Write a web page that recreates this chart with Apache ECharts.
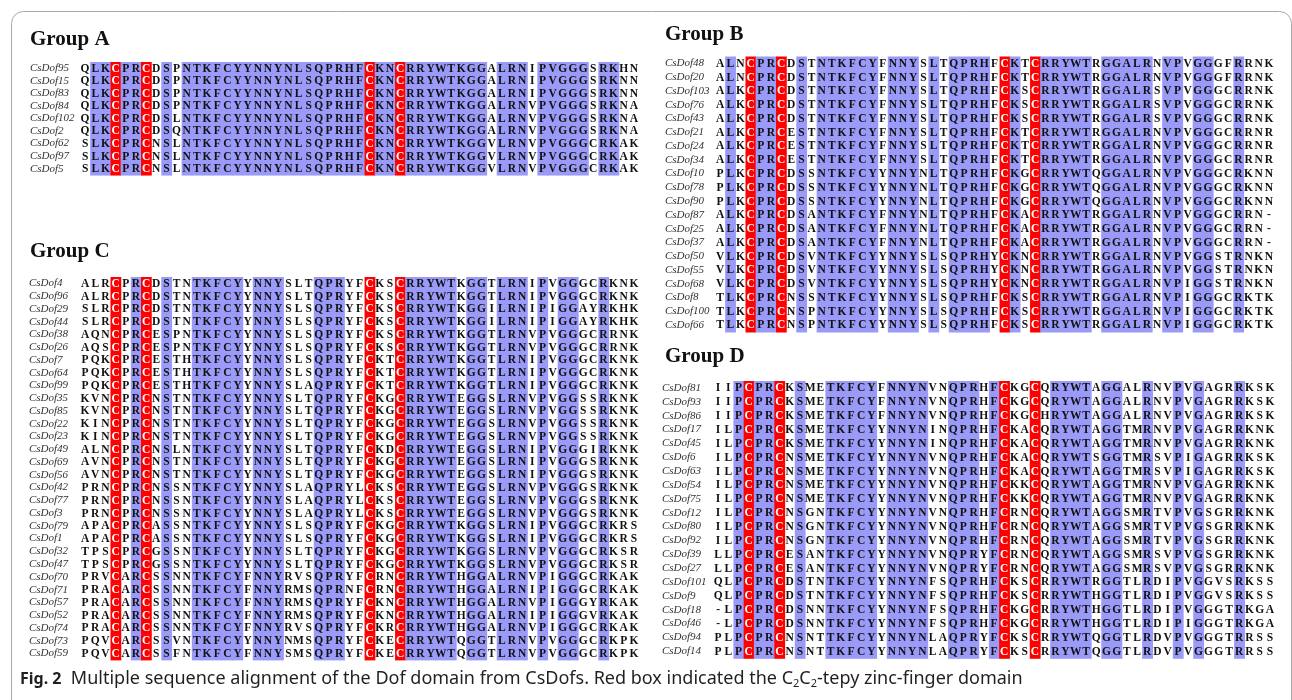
<!DOCTYPE html>
<html>
<head>
<meta charset="utf-8">
<script src="https://cdn.jsdelivr.net/npm/echarts@6/dist/echarts.min.js"></script>
<style>
  html, body { margin: 0; padding: 0; background: #ffffff; }
  #chart { width: 1292px; height: 700px; }
</style>
</head>
<body>
<div id="chart"></div>
<script>
// Dof domain alignments, one pair of arrays per group
const groupANames = ['CsDof95','CsDof15','CsDof83','CsDof84','CsDof102','CsDof2','CsDof62','CsDof97','CsDof5'];
const groupASeqs = [
  'QLKCPRCDSPNTKFCYYNNYNLSQPRHFCKNCRRYWTKGGALRNIPVGGGSRKHN',
  'QLKCPRCDSPNTKFCYYNNYNLSQPRHFCKNCRRYWTKGGALRNIPVGGGSRKNN',
  'QLKCPRCDSPNTKFCYYNNYNLSQPRHFCKNCRRYWTKGGALRNIPVGGGSRKNN',
  'QLKCPRCDSPNTKFCYYNNYNLSQPRHFCKNCRRYWTKGGALRNVPVGGGSRKNA',
  'QLKCPRCDSLNTKFCYYNNYNLSQPRHFCKNCRRYWTKGGALRNVPVGGGSRKNA',
  'QLKCPRCDSQNTKFCYYNNYNLSQPRHFCKNCRRYWTKGGALRNVPVGGGSRKNA',
  'SLKCPRCNSLNTKFCYYNNYNLSQPRHFCKNCRRYWTKGGVLRNVPVGGGCRKAK',
  'SLKCPRCNSLNTKFCYYNNYNLSQPRHFCKNCRRYWTKGGVLRNVPVGGGCRKAK',
  'SLKCPRCNSLNTKFCYYNNYNLSQPRHFCKNCRRYWTKGGVLRNVPVGGGCRKAK'
];

const groupBNames = ['CsDof48','CsDof20','CsDof103','CsDof76','CsDof43','CsDof21','CsDof24','CsDof34','CsDof10','CsDof78',
  'CsDof90','CsDof87','CsDof25','CsDof37','CsDof50','CsDof55','CsDof68','CsDof8','CsDof100','CsDof66'];
const groupBSeqs = [
  'ALNCPRCDSTNTKFCYFNNYSLTQPRHFCKTCRRYWTRGGALRNVPVGGGFRRNK',
  'ALNCPRCDSTNTKFCYFNNYSLTQPRHFCKTCRRYWTRGGALRNVPVGGGFRRNK',
  'ALKCPRCDSTNTKFCYFNNYSLTQPRHFCKSCRRYWTRGGALRSVPVGGGCRRNK',
  'ALKCPRCDSTNTKFCYFNNYSLTQPRHFCKSCRRYWTRGGALRSVPVGGGCRRNK',
  'ALKCPRCDSTNTKFCYFNNYSLTQPRHFCKSCRRYWTRGGALRSVPVGGGCRRNK',
  'ALKCPRCESTNTKFCYFNNYSLTQPRHFCKTCRRYWTRGGALRNVPVGGGCRRNR',
  'ALKCPRCESTNTKFCYFNNYSLTQPRHFCKTCRRYWTRGGALRNVPVGGGCRRNR',
  'ALKCPRCESTNTKFCYFNNYSLTQPRHFCKTCRRYWTRGGALRNVPVGGGCRRNR',
  'PLKCPRCDSSNTKFCYYNNYNLTQPRHFCKGCRRYWTQGGALRNVPVGGGCRKNN',
  'PLKCPRCDSSNTKFCYYNNYNLTQPRHFCKGCRRYWTQGGALRNVPVGGGCRKNN',
  'PLKCPRCDSSNTKFCYYNNYNLTQPRHFCKGCRRYWTQGGALRNVPVGGGCRKNN',
  'ALKCPRCDSANTKFCYFNNYNLTQPRHFCKACRRYWTRGGALRNVPVGGGCRRN-',
  'ALKCPRCDSANTKFCYFNNYNLTQPRHFCKACRRYWTRGGALRNVPVGGGCRRN-',
  'ALKCPRCDSANTKFCYFNNYNLTQPRHFCKACRRYWTRGGALRNVPVGGGCRRN-',
  'VLKCPRCDSVNTKFCYYNNYSLSQPRHYCKNCRRYWTRGGALRNVPVGGSTRNKN',
  'VLKCPRCDSVNTKFCYYNNYSLSQPRHYCKNCRRYWTRGGALRNVPVGGSTRNKN',
  'VLKCPRCDSVNTKFCYYNNYSLSQPRHYCKNCRRYWTRGGALRNVPIGGSTRNKN',
  'TLKCPRCNSSNTKFCYYNNYSLSQPRHFCKSCRRYWTRGGALRNVPIGGGCRKTK',
  'TLKCPRCNSPNTKFCYYNNYSLSQPRHFCKSCRRYWTRGGALRNVPIGGGCRKTK',
  'TLKCPRCNSPNTKFCYYNNYSLSQPRHFCKSCRRYWTRGGALRNVPIGGGCRKTK'
];

const groupCNames = ['CsDof4','CsDof96','CsDof29','CsDof44','CsDof38','CsDof26','CsDof7','CsDof64','CsDof99','CsDof35',
  'CsDof85','CsDof22','CsDof23','CsDof49','CsDof69','CsDof56','CsDof42','CsDof77','CsDof3','CsDof79',
  'CsDof1','CsDof32','CsDof47','CsDof70','CsDof71','CsDof57','CsDof52','CsDof74','CsDof73','CsDof59'];
const groupCSeqs = [
  'ALRCPRCDSTNTKFCYYNNYSLTQPRYFCKSCRRYWTKGGTLRNIPVGGGCRKNK',
  'ALRCPRCDSTNTKFCYYNNYSLTQPRYFCKSCRRYWTKGGTLRNIPVGGGCRKNK',
  'SLRCPRCDSTNTKFCYYNNYSLSQPRYFCKSCRRYWTKGGILRNIPIGGAYRKHK',
  'SLRCPRCDSTNTKFCYYNNYSLSQPRYFCKSCRRYWTKGGILRNIPIGGAYRKHK',
  'AQNCPRCESPNTKFCYYNNYSLSQPRYFCKSCRRYWTKGGTLRNVPVGGGCRRNK',
  'AQSCPRCESPNTKFCYYNNYSLSQPRYFCKSCRRYWTKGGTLRNVPVGGGCRRNK',
  'PQKCPRCESTHTKFCYYNNYSLSQPRYFCKTCRRYWTKGGTLRNIPVGGGCRKNK',
  'PQKCPRCESTHTKFCYYNNYSLSQPRYFCKTCRRYWTKGGTLRNIPVGGGCRKNK',
  'PQKCPRCESTHTKFCYYNNYSLAQPRYFCKTCRRYWTKGGTLRNIPVGGGCRKNK',
  'KVNCPRCNSTNTKFCYYNNYSLTQPRYFCKGCRRYWTEGGSLRNVPVGGSSRKNK',
  'KVNCPRCNSTNTKFCYYNNYSLTQPRYFCKGCRRYWTEGGSLRNVPVGGSSRKNK',
  'KINCPRCNSTNTKFCYYNNYSLTQPRYFCKGCRRYWTEGGSLRNVPVGGSSRKNK',
  'KINCPRCNSTNTKFCYYNNYSLTQPRYFCKGCRRYWTEGGSLRNVPVGGSSRKNK',
  'ALNCPRCNSLNTKFCYYNNYSLTQPRYFCKDCRRYWTEGGSLRNIPVGGGIRKNK',
  'AVNCPRCNSTNTKFCYYNNYSLTQPRYFCKGCRRYWTEGGSLRNIPVGGGSRKNK',
  'AVNCPRCNSTNTKFCYYNNYSLTQPRYFCKGCRRYWTEGGSLRNIPVGGGSRKNK',
  'PRNCPRCNSSNTKFCYYNNYSLAQPRYLCKSCRRYWTEGGSLRNVPVGGGSRKNK',
  'PRNCPRCNSSNTKFCYYNNYSLAQPRYLCKSCRRYWTEGGSLRNVPVGGGSRKNK',
  'PRNCPRCNSSNTKFCYYNNYSLAQPRYLCKSCRRYWTEGGSLRNVPVGGGSRKNK',
  'APACPRCASSNTKFCYYNNYSLSQPRYFCKGCRRYWTKGGSLRNIPVGGGCRKRS',
  'APACPRCASSNTKFCYYNNYSLSQPRYFCKGCRRYWTKGGSLRNIPVGGGCRKRS',
  'TPSCPRCGSSNTKFCYYNNYSLTQPRYFCKGCRRYWTKGGSLRNVPVGGGCRKSR',
  'TPSCPRCGSSNTKFCYYNNYSLTQPRYFCKGCRRYWTKGGSLRNVPVGGGCRKSR',
  'PRVCARCSSNNTKFCYFNNYRVSQPRYFCRNCRRYWTHGGALRNVPIGGGCRKAK',
  'PRACARCSSNNTKFCYFNNYRMSQPRNFCRNCRRYWTHGGALRNIPIGGGCRKAK',
  'PRACARCSSNNTKFCYFNNYRMSQPRYFCKNCRRYWTHGGALRNVPIGGGYRKAK',
  'PRACARCSSNNTKFCYFNNYRMSQPRYFCKNCRRYWTHGGALRNIPIGGGVRKAK',
  'PRACARCSSNNTKFCYFNNYRVSQPRYFCKRCRRYWTHGGALRNVPIGGGCRKAK',
  'PQVCARCSSVNTKFCYYNNYNMSQPRYFCKECRRYWTQGGTLRNVPVGGGCRKPK',
  'PQVCARCSSFNTKFCYFNNYSMSQPRYFCKECRRYWTQGGTLRNVPVGGGCRKPK'
];

const groupDNames = ['CsDof81','CsDof93','CsDof86','CsDof17','CsDof45','CsDof6','CsDof63','CsDof54','CsDof75','CsDof12',
  'CsDof80','CsDof92','CsDof39','CsDof27','CsDof101','CsDof9','CsDof18','CsDof46','CsDof94','CsDof14'];
const groupDSeqs = [
  'IIPCPRCKSMETKFCYFNNYNVNQPRHFCKGCQRYWTAGGALRNVPVGAGRRKSK',
  'IIPCPRCKSMETKFCYFNNYNVNQPRHFCKGCQRYWTAGGALRNVPVGAGRRKSK',
  'IIPCPRCKSMETKFCYFNNYNVNQPRHFCKGCHRYWTAGGALRNVPVGAGRRKSK',
  'ILPCPRCKSMETKFCYYNNYNINQPRHFCKACQRYWTAGGTMRNVPVGAGRRKNK',
  'ILPCPRCKSMETKFCYYNNYNINQPRHFCKACQRYWTAGGTMRNVPVGAGRRKNK',
  'ILPCPRCNSMETKFCYYNNYNVNQPRHFCKACQRYWTSGGTMRSVPIGAGRRKSK',
  'ILPCPRCNSMETKFCYYNNYNVNQPRHFCKACQRYWTAGGTMRSVPIGAGRRKSK',
  'ILPCPRCNSMETKFCYYNNYNVNQPRHFCKKCQRYWTAGGTMRNVPVGAGRRKNK',
  'ILPCPRCNSMETKFCYYNNYNVNQPRHFCKKCQRYWTAGGTMRNVPVGAGRRKNK',
  'ILPCPRCNSGNTKFCYYNNYNVNQPRHFCRNCQRYWTAGGSMRTVPVGSGRRKNK',
  'ILPCPRCNSGNTKFCYYNNYNVNQPRHFCRNCQRYWTAGGSMRTVPVGSGRRKNK',
  'ILPCPRCNSGNTKFCYYNNYNVNQPRHFCRNCQRYWTAGGSMRTVPVGSGRRKNK',
  'LLPCPRCESANTKFCYYNNYNVNQPRYFCRNCQRYWTAGGSMRSVPVGSGRRKNK',
  'LLPCPRCESANTKFCYYNNYNVNQPRYFCRNCQRYWTAGGSMRSVPVGSGRRKNK',
  'QLPCPRCDSTNTKFCYYNNYNFSQPRHFCKSCRRYWTRGGTLRDIPVGGVSRKSS',
  'QLPCPRCDSTNTKFCYYNNYNFSQPRHFCKSCRRYWTHGGTLRDIPVGGVSRKSS',
  '-LPCPRCDSNNTKFCYYNNYNFSQPRHFCKGCRRYWTHGGTLRDIPVGGGTRKGA',
  '-LPCPRCDSNNTKFCYYNNYNFSQPRHFCKGCRRYWTHGGTLRDIPIGGGTRKGA',
  'PLPCPRCNSNTTKFCYYNNYNLAQPRYFCKSCRRYWTQGGTLRDVPVGGGTRRSS',
  'PLPCPRCNSNTTKFCYYNNYNLAQPRYFCKSCRRYWTQGGTLRDVPVGGGTRRSS'
];

const groupTitles = ['Group A', 'Group B', 'Group C', 'Group D'];

// Alignment positions (1-based) of the four cysteines of the C2C2 zinc finger
const zincFingerCols = [4, 7, 29, 32];

// Box placement of each alignment block (pixels)
const blocks = [
  { names: groupANames, seqs: groupASeqs, left: 80, top: 62, width: 559, rowH: 12.55, labelX: 30, titleX: 30, titleY: 41 },
  { names: groupBNames, seqs: groupBSeqs, left: 715, top: 56.5, width: 559, rowH: 13.77, labelX: 665, titleX: 665, titleY: 36 },
  { names: groupCNames, seqs: groupCSeqs, left: 80, top: 277, width: 559, rowH: 12.76, labelX: 29, titleX: 30, titleY: 253 },
  { names: groupDNames, seqs: groupDSeqs, left: 713, top: 381, width: 562, rowH: 13.86, labelX: 662, titleX: 665, titleY: 358 }
];

const BLUE = '#9a9af8';
const RED = '#ff0000';

// Column class: 2 = zinc-finger cysteine, 1 = identical in every sequence, 0 = variable
function columnClasses(seqs) {
  const n = seqs[0].length;
  const cls = [];
  for (let c = 0; c < n; c++) {
    const ch = seqs[0][c];
    const same = seqs.every(s => s[c] === ch);
    if (zincFingerCols.indexOf(c + 1) >= 0) cls.push(2);
    else cls.push(same ? 1 : 0);
  }
  return cls;
}

const grids = [], xAxes = [], yAxes = [], series = [], graphics = [];

blocks.forEach((b, gi) => {
  const nCols = b.seqs[0].length;
  const cls = columnClasses(b.seqs);
  const cells = [];
  b.seqs.forEach((s, r) => {
    for (let c = 0; c < nCols; c++) cells.push([c, r, s[c], cls[c]]);
  });
  grids.push({ left: b.left, top: b.top, width: b.width, height: b.rowH * b.names.length });
  xAxes.push({
    type: 'category', gridIndex: gi, data: Array.from({ length: nCols }, (_, i) => String(i + 1)),
    show: false, boundaryGap: true
  });
  yAxes.push({
    type: 'category', gridIndex: gi, data: b.names, inverse: true, boundaryGap: true,
    axisLine: { show: false }, axisTick: { show: false }, splitLine: { show: false },
    axisLabel: {
      interval: 0, align: 'left', margin: b.left - b.labelX,
      fontFamily: 'Liberation Serif', fontStyle: 'italic', fontSize: 11, color: '#333333'
    }
  });
  series.push({
    type: 'custom', xAxisIndex: gi, yAxisIndex: gi,
    data: cells.map(d => [d[0], d[1]]),
    renderItem: function (params, api) {
      const d = cells[params.dataIndex];
      const p = api.coord([api.value(0), api.value(1)]);
      const sz = api.size([1, 1]);
      const children = [];
      if (d[3] > 0) {
        children.push({
          type: 'rect',
          shape: { x: p[0] - sz[0] / 2, y: p[1] - sz[1] / 2, width: sz[0] + 0.6, height: sz[1] + 0.6 },
          style: { fill: d[3] === 2 ? RED : BLUE }
        });
      }
      children.push({
        type: 'text',
        x: p[0], y: p[1] + 0.5,
        style: {
          text: d[2], align: 'center', verticalAlign: 'middle',
          font: 'bold 11.5px "Liberation Serif"',
          fill: d[3] === 2 ? '#ffffff' : '#111111'
        }
      });
      return { type: 'group', children: children };
    },
    silent: true, animation: false
  });
  graphics.push({
    type: 'text', left: b.titleX, top: b.titleY - 12,
    style: { text: groupTitles[gi], font: 'bold 21px "Liberation Serif"', fill: '#111111' }
  });
});

// Figure frame and caption
graphics.push({
  type: 'rect', left: 9, top: 9, z: -1,
  shape: { width: 1280, height: 720, r: 12 },
  style: { fill: 'none', stroke: '#a8a8a8', lineWidth: 1 }
});
graphics.push({
  type: 'text', left: 20, top: 670,
  style: {
    text: '{b|Fig. 2}  Multiple sequence alignment of the Dof domain from CsDofs. Red box indicated the C{s|2}C{s|2}-tepy zinc-finger domain',
    font: '18px "Noto Sans"', fill: '#231f20',
    rich: {
      b: { font: 'bold 16px "Noto Sans"', fill: '#231f20' },
      s: { font: '11px "Noto Sans"', fill: '#231f20', verticalAlign: 'bottom', padding: [9, 0, 0, 0] }
    }
  }
});

const chart = echarts.init(document.getElementById('chart'), null, { renderer: 'canvas' });
chart.setOption({
  backgroundColor: '#ffffff',
  animation: false,
  grid: grids,
  xAxis: xAxes,
  yAxis: yAxes,
  series: series,
  graphic: graphics
});
</script>
</body>
</html>
